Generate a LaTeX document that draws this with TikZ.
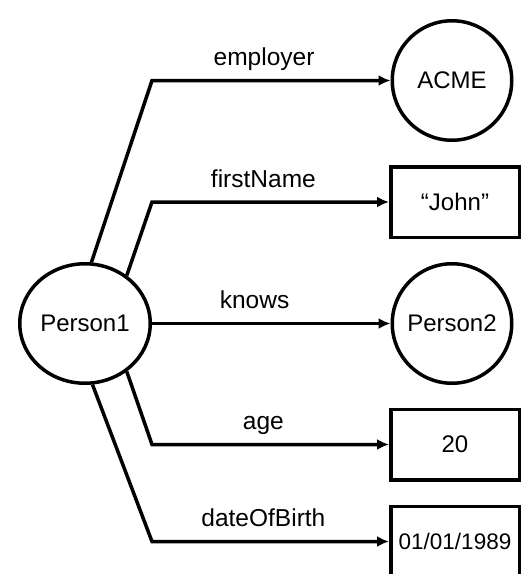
\documentclass[tikz,border=0pt]{standalone}
\usepackage{fontspec}
\setmainfont{Liberation Sans}
\usepackage{tikz}
\usetikzlibrary{shapes.geometric,arrows.meta,positioning}

\begin{document}
\begin{tikzpicture}[x=1pt,y=-1pt,
    res/.style={draw,line width=3.5pt,circle,minimum size=119.5pt,inner sep=0pt,
      font=\fontsize{24}{28}\selectfont},
    lit/.style={draw,line width=3.5pt,rectangle,minimum width=128.5pt,minimum height=70.5pt,
      inner sep=0pt,font=\fontsize{24}{28}\selectfont},
    rel/.style={line width=3.5pt,-{Latex[length=12pt,width=11pt]}},
    lbl/.style={above=8pt,inner sep=0pt,text depth=5pt,font=\fontsize{24.5}{28}\selectfont}]
  \useasboundingbox (0,0) rectangle (531,574);
  % subject
  \node[res,ellipse,minimum width=130.5pt,minimum height=119.5pt] (person1) at (85,323.5) {Person1};
  % objects
  \node[res] (acme) at (452,80.5) {ACME};
  \node[lit] (john) at (455,202) {“John”};
  \node[res] (person2) at (452,323.5) {Person2};
  \node[lit] (age) at (455,444.5) {20};
  \node[lit,font=\fontsize{22.5}{26}\selectfont] (dob) at (455,541.5) {01/01/1989};
  % bend column
  \coordinate (bend) at (152,0);
  % predicates
  \draw[rel] (person1.84) -- (bend |- acme) -- node[lbl,pos=0.47]{employer} (acme);
  \draw[rel] (person1.49) -- (bend |- john) -- node[lbl,pos=0.47]{firstName} (john);
  \draw[rel] (person1) -- node[lbl,pos=0.43]{knows} (person2);
  \draw[rel] (person1.-49) -- (bend |- age) -- node[lbl,pos=0.47]{age} (age);
  \draw[rel] (person1.-83) -- (bend |- dob) -- node[lbl,pos=0.47]{dateOfBirth} (dob);
\end{tikzpicture}
\end{document}
